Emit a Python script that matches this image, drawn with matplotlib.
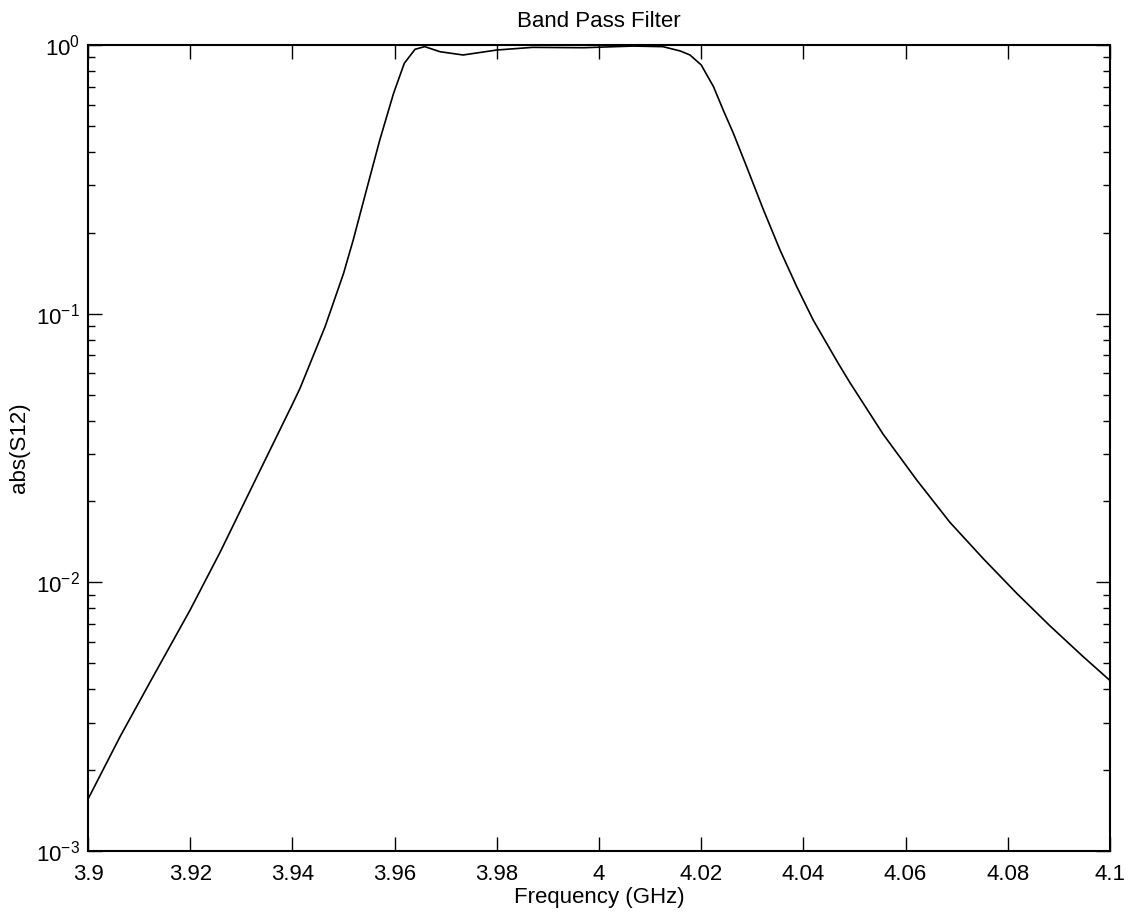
import matplotlib
matplotlib.use("Agg")
import matplotlib.pyplot as plt
from matplotlib.ticker import LogLocator, NullFormatter, FixedLocator

plt.rcParams['font.family'] = ['Liberation Sans', 'DejaVu Sans']

freq_ghz = [3.9000, 3.9063, 3.9128, 3.9200, 3.9259, 3.9324, 3.9400, 3.9415,
            3.9464, 3.9500, 3.9519, 3.9545, 3.9571, 3.9598, 3.9619, 3.9640,
            3.9659, 3.9689, 3.9734, 3.9800, 3.9870, 3.9970, 4.0067, 4.0125,
            4.0159, 4.0178, 4.0200, 4.0224, 4.0243, 4.0263, 4.0289, 4.0322,
            4.0354, 4.0387, 4.0419, 4.0468, 4.0491, 4.0556, 4.0622, 4.0687,
            4.0752, 4.0817, 4.0882, 4.0947, 4.1000]
abs_s12 = [0.00156, 0.00267, 0.00448, 0.0079, 0.0130, 0.0233, 0.046, 0.0528,
           0.0895, 0.141, 0.188, 0.289, 0.443, 0.661, 0.855, 0.964,
           0.986, 0.944, 0.918, 0.958, 0.980, 0.977, 0.991, 0.986,
           0.950, 0.918, 0.843, 0.700, 0.573, 0.469, 0.352, 0.243,
           0.173, 0.126, 0.0948, 0.0654, 0.0554, 0.0356, 0.024, 0.0167,
           0.01225, 0.00912, 0.0069, 0.0053, 0.00431]

xticks = [3.9, 3.92, 3.94, 3.96, 3.98, 4.0, 4.02, 4.04, 4.06, 4.08, 4.1]
xticklabels = ['3.9', '3.92', '3.94', '3.96', '3.98', '4', '4.02', '4.04', '4.06', '4.08', '4.1']

fig = plt.figure(figsize=(11.35, 9.15), dpi=100)
ax = fig.add_axes([88/1135, 64/915, (1110-88)/1135, (851-45)/915])
ax.plot(freq_ghz, abs_s12, color='black', linewidth=1.2)
ax.set_yscale('log')
ax.set_xlim(3.9, 4.1)
ax.set_ylim(1e-3, 1e0)
ax.xaxis.set_major_locator(FixedLocator(xticks))
ax.set_xticklabels(xticklabels)
ax.yaxis.set_major_locator(LogLocator(base=10, numticks=10))
ax.yaxis.set_minor_locator(LogLocator(base=10, subs=range(2, 10), numticks=20))
ax.yaxis.set_minor_formatter(NullFormatter())
ax.tick_params(which='both', direction='in', top=True, right=True, labelsize=16, width=1.0, color='black')
ax.tick_params(which='major', length=10)
ax.tick_params(axis='x', which='major', pad=9)
ax.tick_params(axis='y', which='major', pad=6)
ax.tick_params(which='minor', length=5)
for s in ax.spines.values():
    s.set_linewidth(1.5)
ax.set_title('Band Pass Filter', fontsize=16, pad=13)
ax.set_xlabel('Frequency (GHz)', fontsize=16, labelpad=2)
ax.set_ylabel('abs(S12)', fontsize=16, labelpad=4)
fig.savefig('out.png', dpi=100)
